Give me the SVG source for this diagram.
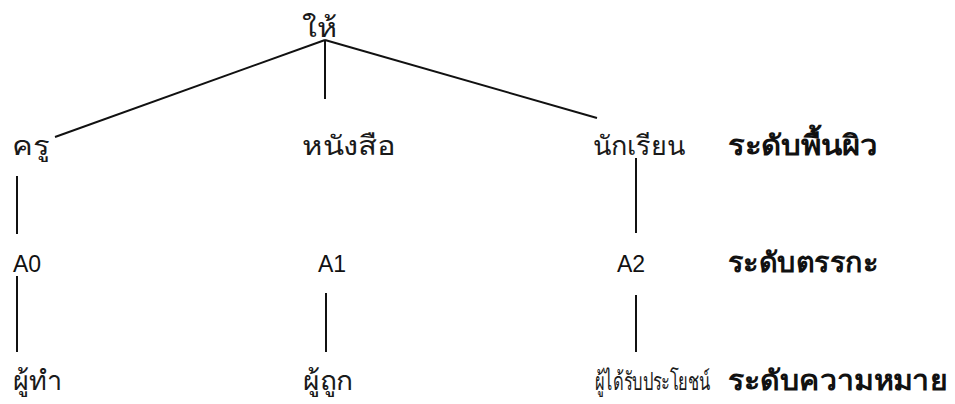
<svg xmlns="http://www.w3.org/2000/svg" width="955" height="404" viewBox="0 0 955 404">
<style>
.t{font-family:"Liberation Sans","Noto Sans",sans-serif;font-size:23px;fill:#111}
.th{font-family:"Liberation Sans","Noto Sans",sans-serif;font-size:27px;fill:#1a1a1a}
.b{font-family:"Liberation Sans","Noto Sans",sans-serif;font-size:28px;font-weight:bold;fill:#111}
.c{stroke:#111;stroke-width:2;fill:none}
</style>
<rect width="955" height="404" fill="#fff"/>
<g id="connectors">
<line class="c" x1="325" y1="40" x2="55" y2="137"/>
<line class="c" x1="325" y1="40" x2="325" y2="99"/>
<line class="c" x1="325" y1="40" x2="597" y2="118"/>
<line class="c" x1="17" y1="176" x2="17" y2="234"/>
<line class="c" x1="17" y1="276" x2="17" y2="352"/>
<line class="c" x1="326" y1="293" x2="326" y2="352"/>
<line class="c" x1="636" y1="158" x2="636" y2="233"/>
<line class="c" x1="636" y1="295" x2="636" y2="352"/>
</g>
<g id="root"><text class="th" x="302" y="37" textLength="35" lengthAdjust="spacingAndGlyphs">ให้</text></g>
<g id="n-khru"><text class="th" x="12" y="155" textLength="38" lengthAdjust="spacingAndGlyphs">ครู</text></g>
<g id="n-nangsue"><text class="th" x="302" y="155" textLength="93" lengthAdjust="spacingAndGlyphs">หนังสือ</text></g>
<g id="n-nakrian"><text class="th" x="593" y="155" textLength="92" lengthAdjust="spacingAndGlyphs">นักเรียน</text></g>
<g id="lvl-surface"><text class="b" x="728" y="155" textLength="150" lengthAdjust="spacingAndGlyphs">ระดับพื้นผิว</text></g>
<g id="n-a0"><text class="t" x="13" y="272">A0</text></g>
<g id="n-a1"><text class="t" x="318" y="272">A1</text></g>
<g id="n-a2"><text class="t" x="617" y="272">A2</text></g>
<g id="lvl-logic"><text class="b" x="728" y="272" textLength="150" lengthAdjust="spacingAndGlyphs">ระดับตรรกะ</text></g>
<g id="n-agent"><text class="th" x="13" y="390" textLength="49" lengthAdjust="spacingAndGlyphs">ผู้ทำ</text></g>
<g id="n-patient"><text class="th" x="303" y="390" textLength="50" lengthAdjust="spacingAndGlyphs">ผู้ถูก</text></g>
<g id="n-benef"><text class="th" transform="translate(595 390) scale(0.66 1)" x="0" y="0" style="font-size:25px">ผู้ได้รับประโยชน์</text></g>
<g id="lvl-meaning"><text class="b" x="728" y="390" textLength="219" lengthAdjust="spacingAndGlyphs">ระดับความหมาย</text></g>
</svg>
